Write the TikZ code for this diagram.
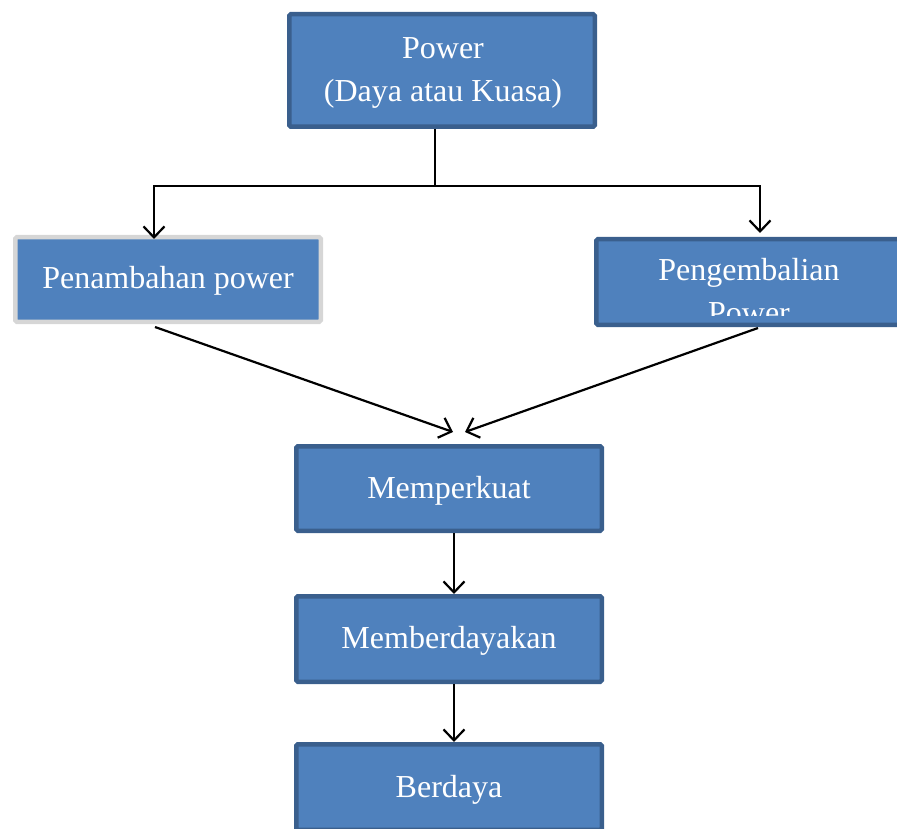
\documentclass[tikz,border=0pt]{standalone}
\usepackage{fontspec}
\setmainfont{Liberation Serif}
\usetikzlibrary{arrows.meta}
\definecolor{boxfill}{HTML}{4F81BD}
\definecolor{boxline}{HTML}{3A5F8D}
\definecolor{greyline}{HTML}{D6D6D6}
\tikzset{
  bluebox/.style={draw=boxline, fill=boxfill, line width=4.5pt, rounded corners=1.5pt,
    minimum width=305.5pt, minimum height=#1, inner sep=0pt},
  greybox/.style={bluebox=#1, draw=greyline},
  lbl/.style={text=white, font=\fontsize{32}{43}\selectfont, align=center, inner sep=0pt},
  arr/.style={line width=2.2pt, -{Straight Barb[length=11pt,width=21pt,line width=2.2pt]}},
  ln/.style={line width=2.2pt}
}
\begin{document}
\begin{tikzpicture}[x=1pt,y=-1pt]
\useasboundingbox (0,0) rectangle (897,829);
\clip (0,0) rectangle (897,829);
\node[bluebox=112.5pt] (pw) at (442,70.5) {};
\node[lbl] (pwt) at (443,73) {Power\\(Daya atau Kuasa)};
\node[greybox=84.5pt] (pa) at (168,279.5) {};
\node[lbl] (pat) at (168,281) {Penambahan power};
\node[bluebox=85.5pt] (pg) at (749,282) {};
\begin{scope}
\clip (595,239) rectangle (901,315);
\node[lbl] (pgt) at (749,291.5) {Pengembalian\\Power};
\end{scope}
\node[bluebox=84.5pt] (mk) at (449,488.5) {};
\node[lbl] (mkt) at (449,491) {Memperkuat};
\node[bluebox=85.5pt] (mb) at (449,639) {};
\node[lbl] (mbt) at (449,641) {Memberdayakan};
\node[bluebox=85.5pt] (bd) at (449,787) {};
\node[lbl] (bdt) at (449,790) {Berdaya};
\coordinate (j) at (435,186);
\coordinate (t1) at (453,432);
\coordinate (t2) at (465,432);
\draw[ln] (pw.south -| j) -- (j);
\draw[arr] (j) -| ([xshift=-14pt,yshift=-4pt]pa.north);
\draw[arr] (j) -| ([xshift=11pt,yshift=4pt]pg.north);
\draw[arr] ([xshift=-13pt,yshift=-3pt]pa.south) -- (t1);
\draw[arr] ([xshift=9pt,yshift=-1pt]pg.south) -- (t2);
\draw[arr] ([xshift=5pt]mk.south) -- ([xshift=5pt]mb.north);
\draw[arr] ([xshift=5pt]mb.south) -- ([xshift=5pt]bd.north);
\end{tikzpicture}
\end{document}
